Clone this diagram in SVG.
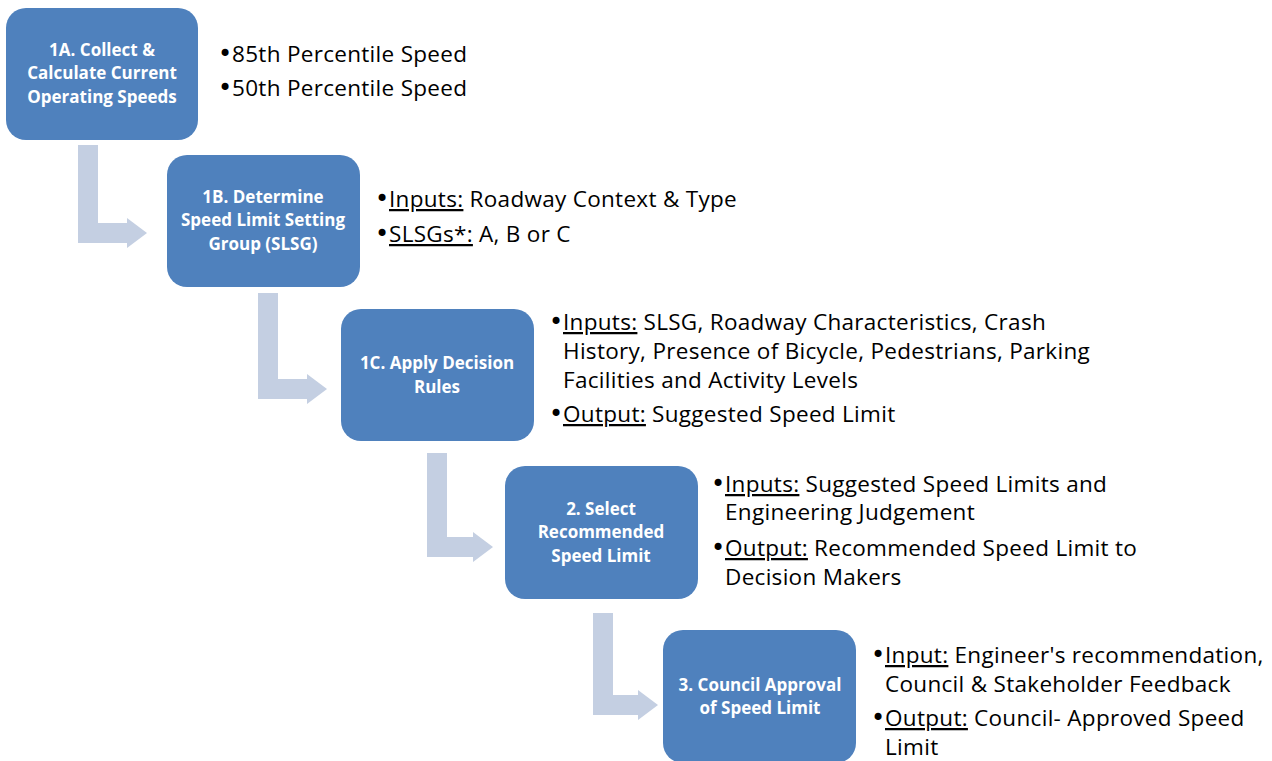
<svg xmlns="http://www.w3.org/2000/svg" width="1272" height="761" viewBox="0 0 1272 761">
  <style>
    .box { fill: #4F81BD; }
    .arrow { fill: #C4CFE2; }
    .lbl { font-family: "Open Sans", Lato, "Liberation Sans", sans-serif; font-weight: bold; font-size: 17px; fill: #FFFFFF; text-anchor: middle; }
    .txt { font-family: "Open Sans", Lato, "Liberation Sans", sans-serif; font-size: 22.5px; letter-spacing: 0.3px; fill: #000000; }
    .b { font-family: "DejaVu Sans", sans-serif; font-size: 24px; }
    .u { text-decoration: underline; }
  </style>

  <!-- bent step arrows -->
  <g id="connectors">
    <path class="arrow" d="M78,145 H98 V223 H127 V218 L147,233 L127,248 V243 H78 Z"/>
    <path class="arrow" d="M258,293 H278 V379 H307 V374 L327,389 L307,404 V399 H258 Z"/>
    <path class="arrow" d="M427,453 H447 V537 H473 V532 L493,547 L473,562 V557 H427 Z"/>
    <path class="arrow" d="M593,613 H613 V695 H638 V690 L658,705 L638,720 V715 H593 Z"/>
  </g>

  <g id="step1a">
    <rect class="box" x="6" y="8" width="192" height="132" rx="20"/>
    <text class="lbl" x="102" y="56">1A. Collect &amp;</text>
    <text class="lbl" x="102" y="79">Calculate Current</text>
    <text class="lbl" x="102" y="103">Operating Speeds</text>
    <text class="txt" x="218" y="62"><tspan class="b">•</tspan><tspan x="232">85th Percentile Speed</tspan></text>
    <text class="txt" x="218" y="96"><tspan class="b">•</tspan><tspan x="232">50th Percentile Speed</tspan></text>
  </g>

  <g id="step1b">
    <rect class="box" x="167" y="155" width="193" height="132" rx="20"/>
    <text class="lbl" x="263" y="203">1B. Determine</text>
    <text class="lbl" x="263" y="226">Speed Limit Setting</text>
    <text class="lbl" x="263" y="250">Group (SLSG)</text>
    <text class="txt" x="375" y="207"><tspan class="b">•</tspan><tspan x="389" class="u">Inputs:</tspan> Roadway Context &amp; Type</text>
    <text class="txt" x="375" y="242"><tspan class="b">•</tspan><tspan x="389" class="u">SLSGs*:</tspan> A, B or C</text>
  </g>

  <g id="step1c">
    <rect class="box" x="341" y="309" width="193" height="132" rx="20"/>
    <text class="lbl" x="437" y="369">1C. Apply Decision</text>
    <text class="lbl" x="437" y="393">Rules</text>
    <text class="txt" x="549" y="330"><tspan class="b">•</tspan><tspan x="563" class="u">Inputs:</tspan> SLSG, Roadway Characteristics, Crash</text>
    <text class="txt" x="563" y="359">History, Presence of Bicycle, Pedestrians, Parking</text>
    <text class="txt" x="563" y="388">Facilities and Activity Levels</text>
    <text class="txt" x="549" y="422"><tspan class="b">•</tspan><tspan x="563" class="u">Output:</tspan> Suggested Speed Limit</text>
  </g>

  <g id="step2">
    <rect class="box" x="505" y="466" width="193" height="133" rx="20"/>
    <text class="lbl" x="601" y="515">2. Select</text>
    <text class="lbl" x="601" y="538">Recommended</text>
    <text class="lbl" x="601" y="562">Speed Limit</text>
    <text class="txt" x="711" y="492"><tspan class="b">•</tspan><tspan x="725" class="u">Inputs:</tspan> Suggested Speed Limits and</text>
    <text class="txt" x="725" y="520">Engineering Judgement</text>
    <text class="txt" x="711" y="556"><tspan class="b">•</tspan><tspan x="725" class="u">Output:</tspan> Recommended Speed Limit to</text>
    <text class="txt" x="725" y="585">Decision Makers</text>
  </g>

  <g id="step3">
    <rect class="box" x="663" y="630" width="193" height="133" rx="20"/>
    <text class="lbl" x="760" y="691">3. Council Approval</text>
    <text class="lbl" x="760" y="714">of Speed Limit</text>
    <text class="txt" x="871" y="663"><tspan class="b">•</tspan><tspan x="885" class="u">Input:</tspan> Engineer's recommendation,</text>
    <text class="txt" x="885" y="692">Council &amp; Stakeholder Feedback</text>
    <text class="txt" x="871" y="726"><tspan class="b">•</tspan><tspan x="885" class="u">Output:</tspan> Council- Approved Speed</text>
    <text class="txt" x="885" y="755">Limit</text>
  </g>
</svg>
